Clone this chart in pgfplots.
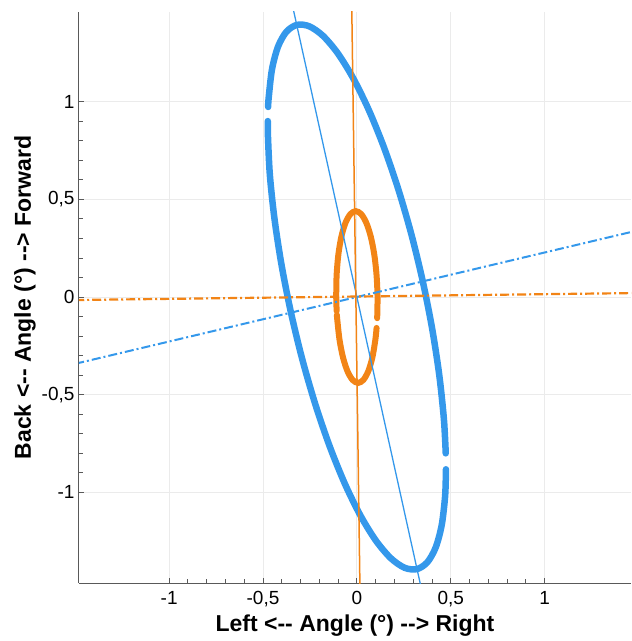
\documentclass[border=0pt]{standalone}
\usepackage{fontspec}
\setmainfont{Liberation Sans}
\usepackage{pgfplots}
\pgfplotsset{compat=1.18}
\definecolor{cblue}{RGB}{52,152,235}
\definecolor{corange}{RGB}{242,132,22}
\begin{document}
\begin{tikzpicture}
\begin{axis}[
  scale only axis, width=552pt, height=571pt,
  xmin=-1.48, xmax=1.46, ymin=-1.465, ymax=1.46,
  axis lines=left, axis line style={-, draw=black!65, line width=1pt},
  xtick={-1,-0.5,0,0.5,1}, ytick={-1,-0.5,0,0.5,1},
  minor tick num=4,
  tick align=inside, major tick length=5pt, minor tick length=4pt,
  tick style={black!65, line width=0.9pt},
  grid=major, grid style={black!8, line width=0.8pt},
  /pgf/number format/use comma, /pgf/number format/assume math mode=true,
  ticklabel style={font=\fontsize{19}{21}\selectfont},
  xticklabel style={yshift=-5pt},
  yticklabel style={xshift=-1pt},
  xlabel={Left <-{}- Angle (°) -{}-> Right},
  ylabel={Back <-{}- Angle (°) -{}-> Forward},
  label style={font=\bfseries\fontsize{23}{26}\selectfont},
  xlabel style={yshift=-1pt},
  ylabel style={yshift=-1pt},
  clip=true,
]
% blue ellipse, two segments
\addplot[cblue, line width=6.5pt, line cap=round, smooth] coordinates {
(-0.4743,0.9013) (-0.4740,0.8345) (-0.4636,0.6274) (-0.4389,0.4011) (-0.4010,0.1628)
(-0.3509,-0.0804) (-0.2902,-0.3212) (-0.2205,-0.5523) (-0.1442,-0.7666) (-0.0636,-0.9577)
(0.0190,-1.1195) (0.1010,-1.2474) (0.1800,-1.3374) (0.2535,-1.3868) (0.3193,-1.3940)
(0.3753,-1.3588) (0.4200,-1.2824) (0.4520,-1.1670) (0.4702,-1.0161) (0.4744,-0.8825)
};
\addplot[cblue, line width=6.5pt, line cap=round, smooth] coordinates {
(0.4733,-0.8009) (0.4636,-0.6274) (0.4389,-0.4011) (0.4010,-0.1628) (0.3509,0.0804)
(0.2902,0.3212) (0.2205,0.5523) (0.1442,0.7666) (0.0636,0.9577) (-0.0190,1.1195)
(-0.1010,1.2474) (-0.1800,1.3374) (-0.2535,1.3868) (-0.3193,1.3940) (-0.3753,1.3588)
(-0.4200,1.2824) (-0.4520,1.1670) (-0.4702,1.0161) (-0.4725,0.9735)
};
% orange ellipse, two segments
\addplot[corange, line width=6pt, line cap=round, smooth] coordinates {
(-0.1064,-0.0916) (-0.1045,-0.1155) (-0.0921,-0.2214) (-0.0732,-0.3122) (-0.0494,-0.3818)
(-0.0223,-0.4254) (0.0065,-0.4400) (0.0347,-0.4246) (0.0606,-0.3802) (0.0824,-0.3100)
(0.0985,-0.2186) (0.1049,-0.1584)
};
\addplot[corange, line width=6pt, line cap=round, smooth] coordinates {
(0.1081,-0.1086) (0.1100,0.0016) (0.1045,0.1155) (0.0921,0.2214) (0.0732,0.3122)
(0.0494,0.3818) (0.0223,0.4254) (-0.0065,0.4400) (-0.0347,0.4246) (-0.0606,0.3802)
(-0.0824,0.3100) (-0.0985,0.2186) (-0.1079,0.1123) (-0.1100,-0.0016) (-0.1076,-0.0720)
};
% axes of the ellipses
\addplot[cblue, line width=1.3pt] coordinates {(-0.3448,1.5) (0.3448,-1.5)};
\addplot[cblue, line width=2pt, dash pattern=on 9pt off 3pt on 2pt off 3pt] coordinates {(-1.5,-0.342) (1.5,0.342)};
\addplot[corange, line width=1.5pt] coordinates {(-0.0275,1.5) (0.0165,-1.5)};
\addplot[corange, line width=2.2pt, dash pattern=on 9pt off 3pt on 2pt off 3pt] coordinates {(-1.5,-0.0155) (1.5,0.0205)};
\end{axis}
\pgfresetboundingbox
\path ([xshift=-79pt,yshift=-58pt]current axis.south west) rectangle ([yshift=12pt]current axis.north east);
\end{tikzpicture}
\end{document}
